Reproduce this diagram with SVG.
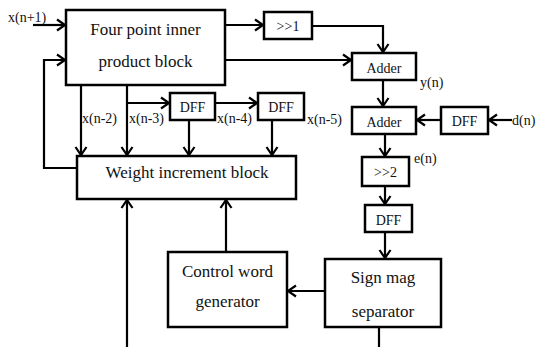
<svg xmlns="http://www.w3.org/2000/svg" width="537" height="347" viewBox="0 0 537 347">
<style>
rect.b{fill:#fff;stroke:#000;stroke-width:2.5}
text{font-family:"Liberation Serif","Times New Roman",serif;fill:#111}
.big{font-size:17px;text-anchor:middle}
.sm{font-size:14px}
.smc{font-size:14px;text-anchor:middle}
.c{fill:none;stroke:#000;stroke-width:2.2}
</style>
<defs>
<marker id="ah" markerUnits="userSpaceOnUse" markerWidth="14" markerHeight="14" viewBox="-10 -7 12 14" refX="0" refY="0" orient="auto">
<path d="M-8,-5.5 L0,0 L-8,5.5" fill="none" stroke="#000" stroke-width="2.2"/>
</marker>
</defs>
<rect width="537" height="347" fill="#fff"/>
<g id="connectors">
<path class="c" d="M33,25 H65" marker-end="url(#ah)"/>
<path class="c" d="M77,168 H44 V60 H65" marker-end="url(#ah)"/>
<path class="c" d="M225,25 H263" marker-end="url(#ah)"/>
<path class="c" d="M312,26 H383 V52" marker-end="url(#ah)"/>
<path class="c" d="M225,60 H351" marker-end="url(#ah)"/>
<path class="c" d="M81,85 V155" marker-end="url(#ah)"/>
<path class="c" d="M127,85 V155" marker-end="url(#ah)"/>
<path class="c" d="M127,103 H169" marker-end="url(#ah)"/>
<path class="c" d="M215,103 H257" marker-end="url(#ah)"/>
<path class="c" d="M189,120 V155" marker-end="url(#ah)"/>
<path class="c" d="M272,120 V155" marker-end="url(#ah)"/>
<path class="c" d="M383,80 V106" marker-end="url(#ah)"/>
<path class="c" d="M441,120 H417" marker-end="url(#ah)"/>
<path class="c" d="M512,120 H489" marker-end="url(#ah)"/>
<path class="c" d="M385,134 V156" marker-end="url(#ah)"/>
<path class="c" d="M385,186 V204" marker-end="url(#ah)"/>
<path class="c" d="M385,232 V258" marker-end="url(#ah)"/>
<path class="c" d="M325,291 H288" marker-end="url(#ah)"/>
<path class="c" d="M226,252 V200" marker-end="url(#ah)"/>
<path class="c" d="M127,347 V200" marker-end="url(#ah)"/>
<path class="c" d="M379,327 V347"/>
</g>
<g id="inner-product">
<rect class="b" x="66" y="10" width="159" height="75"/>
<text class="big" x="145.5" y="35">Four point inner</text>
<text class="big" x="145.5" y="67">product block</text>
</g>
<g id="weight-increment">
<rect class="b" x="77" y="156" width="219" height="43"/>
<text class="big" x="187" y="178">Weight increment  block</text>
</g>
<g id="shift1">
<rect class="b" x="264" y="12" width="48" height="27"/>
<text class="smc" x="288" y="31">&gt;&gt;1</text>
</g>
<g id="adder1">
<rect class="b" x="352" y="53" width="64" height="27"/>
<text class="smc" x="384" y="73">Adder</text>
</g>
<g id="adder2">
<rect class="b" x="352" y="107" width="64" height="27"/>
<text class="smc" x="384" y="127">Adder</text>
</g>
<g id="dff1">
<rect class="b" x="170" y="93" width="45" height="27"/>
<text class="smc" x="192.5" y="112">DFF</text>
</g>
<g id="dff2">
<rect class="b" x="258" y="93" width="46" height="27"/>
<text class="smc" x="281" y="112">DFF</text>
</g>
<g id="dff3">
<rect class="b" x="441" y="107" width="47" height="27"/>
<text class="smc" x="464.5" y="126">DFF</text>
</g>
<g id="shift2">
<rect class="b" x="362" y="157" width="47" height="29"/>
<text class="smc" x="385.5" y="177">&gt;&gt;2</text>
</g>
<g id="dff4">
<rect class="b" x="365" y="205" width="47" height="27"/>
<text class="smc" x="388.5" y="225">DFF</text>
</g>
<g id="sign-mag">
<rect class="b" x="325" y="259" width="116" height="68"/>
<text class="big" x="383" y="283">Sign mag</text>
<text class="big" x="383" y="317">separator</text>
</g>
<g id="control-word">
<rect class="b" x="168" y="252" width="119" height="75"/>
<text class="big" x="227.5" y="277">Control word</text>
<text class="big" x="227.5" y="307">generator</text>
</g>
<g id="labels">
<text class="sm" x="8" y="22">x(n+1)</text>
<text class="sm" x="82" y="123">x(n-2)</text>
<text class="sm" x="129" y="123">x(n-3)</text>
<text class="sm" x="217" y="123">x(n-4)</text>
<text class="sm" x="307" y="124">x(n-5)</text>
<text class="sm" x="420" y="87">y(n)</text>
<text class="sm" x="512" y="125">d(n)</text>
<text class="sm" x="414" y="163">e(n)</text>
</g>
</svg>
